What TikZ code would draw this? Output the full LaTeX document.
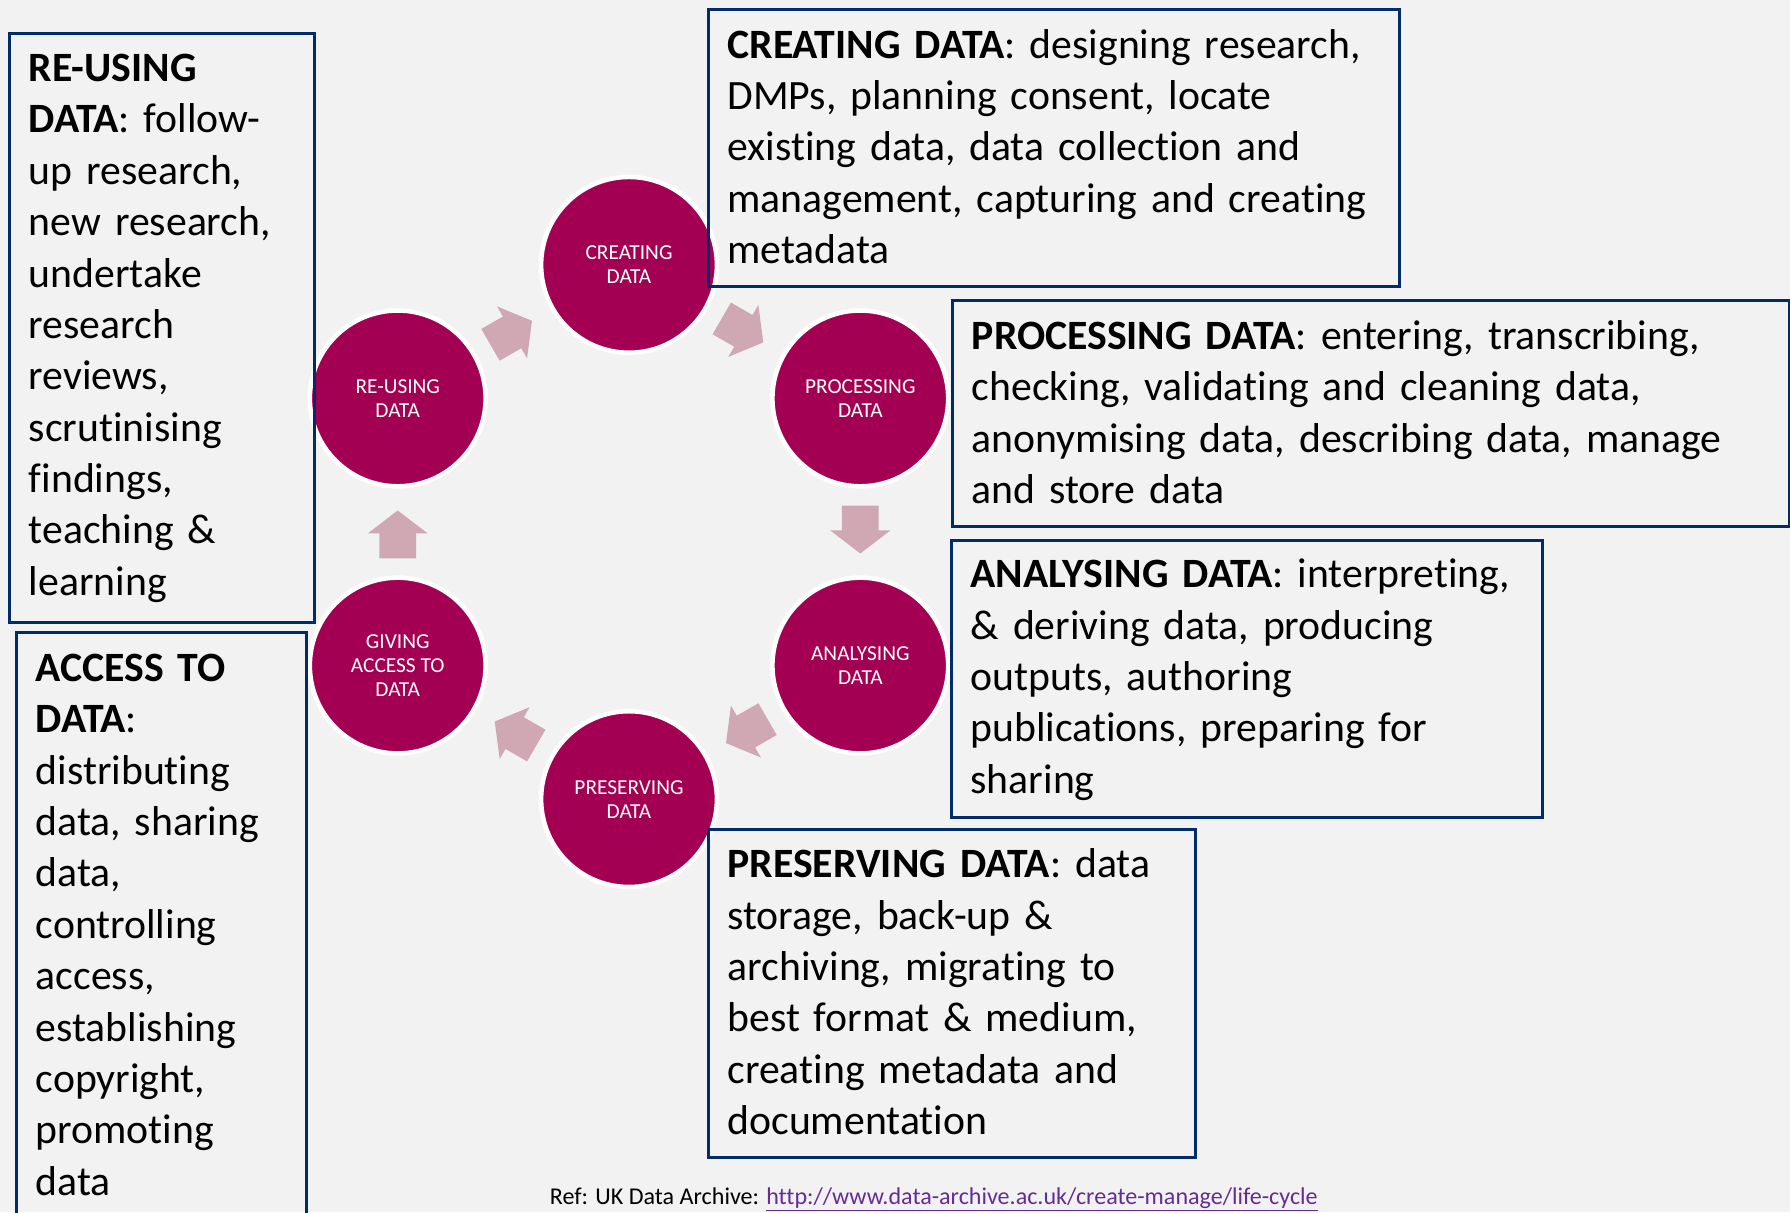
\documentclass[tikz,border=0pt]{standalone}
\usepackage{fontspec}
\setmainfont{Carlito}[Ligatures=NoCommon]
\usepackage{tikz}
\usetikzlibrary{calc}
\usetikzlibrary{positioning}
\usetikzlibrary{shapes.arrows}
\definecolor{bggray}{RGB}{242,242,242}
\definecolor{stagered}{RGB}{163,0,84}
\definecolor{arrowpink}{RGB}{207,168,180}
\definecolor{boxblue}{RGB}{0,45,105}
\definecolor{linkpurple}{RGB}{100,45,150}
\newcommand{\infofont}{\fontsize{26pt}{32pt}\selectfont}
\newcommand{\stagefont}{\fontsize{13.3pt}{15pt}\selectfont}
\tikzset{
  mycircle/.style={
    shape=circle,
    draw=white,
    fill=stagered,
    line width=1mm,
    minimum size=38.5mm,
    inner sep=0pt,
    align=center,
    text=white,
    font=\stagefont
  },
  myarrow/.style={
    shape=single arrow,
    fill=arrowpink,
    draw=none,
    inner xsep=0pt,
    inner ysep=3.94mm,
    minimum height=10.5mm,
    minimum width=13mm,
    single arrow head extend=2.56mm,
    single arrow tip angle=105,
    anchor=tip
  },
  mybox/.style={
    draw=boxblue,
    line width=0.65mm,
    anchor=north west,
    inner sep=0pt
  },
  mytext/.style={
    anchor=base west,
    inner sep=0pt,
    text width=20cm,
    align=left,
    font=\infofont
  }
}

\begin{document}
\begin{tikzpicture}[x=0.25mm, y=-0.25mm]
    \path[use as bounding box, fill=bggray] (0,0) rectangle (1568,1062);
    \clip (0,0) rectangle (1568,1062);

    % stages of the cycle
    \node[mycircle] (creating)   at (551,232)   {CREATING\\DATA};
    \node[mycircle] (processing) at (753.6,349) {PROCESSING\\DATA};
    \node[mycircle] (analysing)  at (753.6,583) {ANALYSING\\DATA};
    \node[mycircle] (preserving) at (551,700)   {PRESERVING\\DATA};
    \node[mycircle] (giving)     at (348.4,583) {GIVING\\ACCESS TO\\DATA};
    \node[mycircle] (reusing)    at (348.4,349) {RE-USING\\DATA};

    \node[myarrow, rotate=30]  (reusecreate)     at ($(reusing)!0.5!(creating)!4.8mm!(creating)$)       {};
    \node[myarrow, rotate=-30] (createprocess)   at ($(creating)!0.5!(processing)!4.8mm!(processing)$)  {};
    \node[myarrow, rotate=-90] (processanalyse)  at ($(processing)!0.5!(analysing)!4.8mm!(analysing)$)  {};
    \node[myarrow, rotate=210] (analysepreserve) at ($(analysing)!0.5!(preserving)!4.8mm!(preserving)$) {};
    \node[myarrow, rotate=150] (preservegive)    at ($(preserving)!0.5!(giving)!4.8mm!(giving)$)        {};
    \node[myarrow, rotate=90]  (givereuse)       at ($(giving)!0.5!(reusing)!4.8mm!(reusing)$)          {};

    % description boxes
    \node[mybox, minimum width=66.75mm, minimum height=129mm]   (reusingbox)    at (7,28)   {};
    \node[mybox, minimum width=63.5mm, minimum height=136.75mm] (givingbox)     at (13,553) {};
    \node[mybox, minimum width=151.5mm, minimum height=60.75mm] (creatingbox)   at (619,7)  {};
    \node[mybox, minimum width=183.25mm, minimum height=49.5mm] (processingbox) at (833,262) {};
    \node[mybox, minimum width=129.5mm, minimum height=60.75mm] (analysingbox)  at (832,472) {};
    \node[mybox, minimum width=106.75mm, minimum height=72mm]   (preservingbox) at (619,725) {};

    \node[mytext] (reusingtxt) at (25,71.5) {\textbf{RE-USING}\\\textbf{DATA}: follow-\\up research,\\new research,\\undertake\\research\\reviews,\\scrutinising\\findings,\\teaching \&\\learning};
    \node[mytext] (givingtxt) at (31,597) {\textbf{ACCESS TO}\\\textbf{DATA}:\\distributing\\data, sharing\\data,\\controlling\\access,\\establishing\\copyright,\\promoting\\data};
    \node[mytext] (creatingtxt) at (637,51) {\textbf{CREATING DATA}: designing research,\\DMPs, planning consent, locate\\existing data, data collection and\\management, capturing and creating\\metadata};
    \node[mytext] (processingtxt) at (851,306) {\textbf{PROCESSING DATA}: entering, transcribing,\\checking, validating and cleaning data,\\anonymising data, describing data, manage\\and store data};
    \node[mytext] (analysingtxt) at (850,515) {\textbf{ANALYSING DATA}: interpreting,\\\& deriving data, producing\\outputs, authoring\\publications, preparing for\\sharing};
    \node[mytext] (preservingtxt) at (637,769) {\textbf{PRESERVING DATA}: data\\storage, back-up \&\\archiving, migrating to\\best format \& medium,\\creating metadata and\\documentation};

    \node[anchor=base, inner sep=0pt, font=\fontsize{15pt}{17pt}\selectfont] (reftxt) at (818,1055)
      {Ref: UK Data Archive: \textcolor{linkpurple}{\underline{http://www.data-archive.ac.uk/create-manage/life-cycle}}};
\end{tikzpicture}
\end{document}
